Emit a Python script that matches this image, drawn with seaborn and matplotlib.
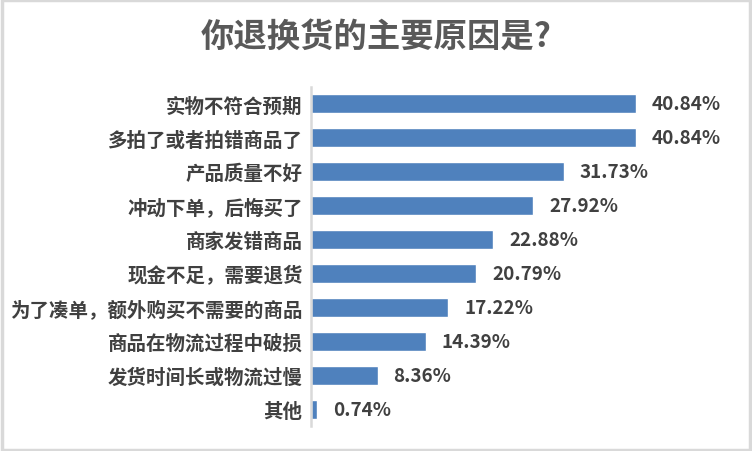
import matplotlib
matplotlib.use("Agg")
import matplotlib.pyplot as plt
import seaborn as sns
import pandas as pd
from matplotlib.patches import Rectangle

categories = ["实物不符合预期", "多拍了或者拍错商品了", "产品质量不好", "冲动下单，后悔买了",
              "商家发错商品", "现金不足，需要退货", "为了凑单，额外购买不需要的商品",
              "商品在物流过程中破损", "发货时间长或物流过慢", "其他"]
values = [40.84, 40.84, 31.73, 27.92, 22.88, 20.79, 17.22, 14.39, 8.36, 0.74]
title = "你退换货的主要原因是?"

sns.set_theme(style="white")
plt.rcParams['font.family'] = ['Noto Sans CJK SC', 'DejaVu Sans']

df = pd.DataFrame({"cat": categories, "val": values})

fig = plt.figure(figsize=(7.52, 4.52), dpi=100)
ax = fig.add_axes([311/752, 25/452, 398/752, 339/452])
sns.barplot(data=df, x="val", y="cat", ax=ax, color="#4f81bd", saturation=1, width=0.56, orient="h")
ax.set_xlim(0, 50)
ax.set_ylim(9.5, -0.5)
ax.set_xlabel("")
ax.set_ylabel("")
ax.set_xticks([])
for s in ["top", "right", "bottom"]:
    ax.spines[s].set_visible(False)
ax.spines["left"].set_color("#d9d9d9")
ax.spines["left"].set_linewidth(1.8)
ax.tick_params(axis="y", length=0, pad=6)
for lab in ax.get_yticklabels():
    lab.set_fontsize(14)
    lab.set_fontweight("bold")
    lab.set_color("#404040")

for i, v in enumerate(values):
    ax.annotate(f"{v:.2f}%", xy=(v, i), xytext=(16, 0), textcoords="offset pixels",
                va="center", ha="left", fontsize=13.6, fontweight="bold", color="#404040")

fig.text(0.5, 1 - 37/452, title, ha="center", va="center", fontsize=24,
         fontweight="bold", color="#595959")

fig.patches.append(Rectangle((0.002, 0.003), 0.996, 0.994, transform=fig.transFigure,
                             fill=False, edgecolor="#d9d9d9", linewidth=2.5))

fig.savefig("out.png", dpi=100)
